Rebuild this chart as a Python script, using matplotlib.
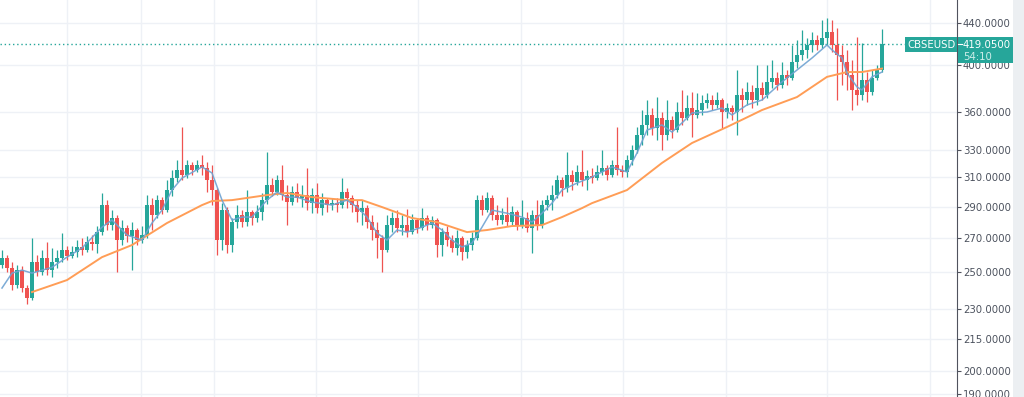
import matplotlib
matplotlib.use('Agg')
import matplotlib.pyplot as plt
import matplotlib.patches as mpatches
from matplotlib.lines import Line2D
from matplotlib.ticker import NullLocator, NullFormatter
from matplotlib.transforms import IdentityTransform
import numpy as np

symbol = 'CBSEUSD'
countdown = '54:10'

# candles, oldest first
opens = [254.2,
         258.3, 252.4, 242.9, 251.3, 241.3, 235.9, 256.0, 250.2, 258.3,
         251.3, 256.0, 258.3, 263.0, 259.4, 261.8, 264.8, 263.0, 267.8, 266.6,
         273.9, 291.2, 278.3, 282.8, 269.0, 276.4, 271.5, 275.2, 269.0, 272.1,
         291.2, 284.7, 294.5, 287.9, 301.3, 309.6, 315.3, 311.7, 318.9, 315.3,
         318.9, 316.7, 308.2, 301.3, 269.0, 287.9, 266.0, 280.2, 284.7, 280.2,
         286.6, 282.8, 286.6, 294.5, 304.7, 299.9, 308.2, 297.9, 293.2, 299.9,
         295.9, 297.9, 292.5, 297.9, 289.2, 294.5, 291.2, 292.5, 291.2, 299.9,
         295.9, 291.2, 286.6, 289.2, 280.2, 275.2, 270.2, 263.0, 278.3, 282.8,
         276.4, 278.3, 273.9, 281.5, 276.4, 282.8, 278.3, 281.5, 266.0, 273.9,
         269.0, 264.2, 270.2, 261.8, 266.0, 270.2, 294.5, 287.9, 295.9, 284.7,
         281.5, 284.7, 280.2, 286.6, 278.3, 282.8, 276.4, 284.7, 278.3, 291.2,
         294.5, 297.9, 308.2, 302.7, 311.7, 306.8, 313.9, 308.2, 311.0, 309.6,
         313.9, 316.7, 311.7, 318.9, 315.3, 313.9, 322.5, 329.9, 341.3, 349.2,
         357.2, 346.8, 354.7, 341.3, 353.1, 345.2, 359.6, 354.7, 362.8, 357.2,
         361.2, 367.0, 369.5, 365.4, 369.5, 359.6, 362.8, 359.6, 373.7, 369.5,
         376.3, 369.5, 379.7, 373.7, 384.5, 388.5, 382.3, 391.1, 388.5, 402.8,
         409.2, 413.9, 418.6, 423.4, 418.6, 425.3, 431.1, 418.6, 409.2, 402.8,
         391.1, 378.0, 373.7, 386.7, 376.3, 388.5, 395.5]

highs = [263.0, 260.0, 256.0, 254.2, 253.6, 242.9, 270.2, 260.0, 263.0, 267.8,
         264.2, 263.0, 273.3, 265.4, 265.4, 269.0, 270.2, 271.5, 272.1, 277.7,
         299.3, 294.5, 287.9, 284.7, 281.5, 278.3, 280.2, 276.4, 277.7, 297.9,
         295.9, 297.9, 296.5, 308.2, 315.3, 322.5, 347.6, 322.5, 321.1, 322.5,
         326.2, 321.1, 318.9, 303.0, 292.5, 290.0, 282.8, 291.2, 287.9, 301.3,
         287.9, 291.2, 299.3, 328.4, 309.6, 311.7, 318.9, 304.7, 304.0, 306.1,
         304.7, 316.7, 302.7, 306.1, 299.3, 296.0, 295.9, 295.9, 309.6, 302.7,
         297.9, 294.5, 294.5, 291.2, 284.7, 280.2, 272.1, 284.7, 286.6, 287.9,
         284.7, 288.6, 285.3, 282.8, 289.2, 284.7, 284.0, 282.8, 276.4, 277.7,
         272.1, 275.2, 271.5, 269.0, 273.9, 297.9, 297.9, 299.9, 297.9, 291.2,
         289.2, 296.5, 290.5, 287.9, 294.5, 286.6, 287.9, 294.5, 294.5, 297.9,
         304.7, 311.7, 310.3, 328.4, 315.3, 318.9, 329.9, 315.3, 316.7, 318.9,
         329.9, 318.9, 322.5, 347.6, 318.9, 326.2, 333.7, 347.6, 361.2, 369.5,
         362.8, 372.0, 359.6, 369.5, 356.0, 367.8, 378.0, 373.7, 376.3, 375.4,
         373.7, 375.4, 373.7, 376.3, 371.2, 367.0, 365.4, 395.5, 379.7, 384.5,
         382.3, 400.0, 384.5, 400.0, 404.6, 393.7, 402.8, 395.5, 418.6, 423.4,
         433.1, 425.3, 431.1, 428.2, 443.0, 445.0, 443.0, 435.1, 418.6, 413.9,
         404.6, 426.3, 420.5, 393.7, 395.5, 400.0, 434.1]

lows = [252.4, 250.2, 240.2, 241.3, 239.1, 232.6, 234.8, 247.9, 248.5, 248.5,
        247.4, 252.4, 256.0, 257.1, 258.3, 258.8, 260.0, 261.8, 263.0, 261.2,
        272.1, 275.2, 275.2, 250.2, 266.0, 267.8, 251.3, 266.0, 267.2, 270.2,
        275.2, 282.8, 285.3, 286.6, 297.2, 306.8, 308.2, 309.6, 311.7, 313.9,
        311.7, 299.9, 291.2, 260.0, 263.0, 261.2, 261.8, 276.4, 277.0, 277.7,
        278.3, 280.2, 281.5, 292.0, 297.2, 297.9, 294.5, 278.3, 291.2, 293.2,
        289.9, 287.9, 286.0, 286.0, 284.7, 286.6, 287.9, 286.6, 289.0, 289.2,
        286.6, 280.2, 278.3, 276.4, 269.0, 258.3, 250.2, 261.8, 273.9, 273.9,
        272.1, 270.8, 272.7, 273.3, 275.2, 275.2, 276.4, 258.8, 259.4, 265.4,
        261.8, 260.0, 257.1, 258.3, 263.0, 269.0, 284.7, 286.6, 281.5, 278.3,
        279.0, 277.7, 278.3, 275.2, 276.4, 273.9, 261.2, 275.2, 276.4, 287.9,
        287.9, 295.9, 297.2, 299.9, 301.3, 304.7, 304.0, 301.3, 306.1, 308.2,
        311.7, 308.2, 310.3, 311.7, 310.3, 310.3, 318.9, 327.7, 333.7, 341.3,
        341.3, 337.5, 329.9, 337.5, 339.0, 343.6, 349.2, 353.1, 339.8, 354.7,
        357.2, 362.8, 361.2, 362.8, 346.8, 354.7, 353.1, 341.3, 359.6, 365.4,
        362.8, 365.4, 369.5, 371.2, 379.7, 378.0, 379.7, 382.3, 386.7, 397.3,
        404.6, 406.4, 412.0, 413.9, 415.8, 418.6, 412.0, 369.5, 382.3, 378.0,
        361.2, 365.4, 369.5, 367.8, 374.0, 386.7, 393.7]

closes = [258.3, 252.4, 242.9, 251.3, 241.3, 235.9, 256.0, 250.2, 258.3, 251.3,
          256.0, 258.3, 263.0, 259.4, 261.8, 264.8, 263.0, 267.8, 266.6, 273.9,
          291.2, 278.3, 282.8, 269.0, 276.4, 271.5, 275.2, 269.0, 272.1, 291.2,
          284.7, 294.5, 287.9, 301.3, 309.6, 315.3, 311.7, 318.9, 315.3, 318.9,
          316.7, 308.2, 301.3, 269.0, 287.9, 266.0, 280.2, 284.7, 280.2, 286.6,
          282.8, 286.6, 294.5, 304.7, 299.9, 308.2, 297.9, 293.2, 299.9, 295.9,
          297.9, 292.5, 297.9, 289.2, 294.5, 291.2, 292.5, 291.2, 299.9, 295.9,
          291.2, 286.6, 289.2, 280.2, 275.2, 270.2, 263.0, 278.3, 282.8, 276.4,
          278.3, 273.9, 281.5, 276.4, 282.8, 278.3, 281.5, 266.0, 273.9, 269.0,
          264.2, 270.2, 261.8, 266.0, 270.2, 294.5, 287.9, 295.9, 284.7, 281.5,
          284.7, 280.2, 286.6, 278.3, 282.8, 276.4, 284.7, 278.3, 291.2, 294.5,
          297.9, 308.2, 302.7, 311.7, 306.8, 313.9, 308.2, 311.0, 309.6, 313.9,
          316.7, 311.7, 318.9, 315.3, 313.9, 322.5, 329.9, 341.3, 349.2, 357.2,
          346.8, 354.7, 341.3, 353.1, 345.2, 359.6, 354.7, 362.8, 357.2, 361.2,
          367.0, 369.5, 365.4, 369.5, 359.6, 362.8, 359.6, 373.7, 369.5, 376.3,
          369.5, 379.7, 373.7, 384.5, 388.5, 382.3, 391.1, 388.5, 402.8, 409.2,
          413.9, 418.6, 423.4, 418.6, 425.3, 431.1, 418.6, 409.2, 402.8, 391.1,
          378.0, 373.7, 386.7, 376.3, 388.5, 395.5, 419.05]

# fast moving average (blue), sampled at candle numbers
fast_ma_idx = [0, 2, 4, 6, 10, 13, 16, 20, 22, 25, 28, 30, 32, 34, 36, 40, 42, 44, 46, 48,
               50, 53, 55, 57, 59, 62, 66, 69, 71, 73, 75, 77, 79, 81, 84, 86, 88, 90, 92, 94,
               96, 98, 101, 104, 106, 108, 110, 112, 115, 118, 122, 125, 127, 129, 132, 134,
               136, 138, 141, 144, 146, 149, 152, 156, 159, 162, 165, 166, 168, 169, 171,
               172, 174, 176]
fast_ma = [241.3, 249.6, 251.3, 249.6, 252.9, 258.8, 264.2, 277.0, 281.5, 272.1,
           269.0, 279.6, 287.9, 301.3, 309.6, 317.5, 313.2, 294.5, 281.5, 283.4,
           283.4, 294.5, 299.9, 296.5, 296.5, 293.2, 291.2, 294.5, 289.9, 283.4,
           273.3, 269.0, 275.2, 273.9, 277.0, 279.6, 275.2, 269.0, 264.8, 267.2,
           277.0, 287.9, 285.9, 283.4, 280.2, 285.9, 292.5, 301.3, 306.1, 310.3,
           317.5, 313.9, 327.7, 345.2, 349.2, 343.6, 350.8, 358.8, 359.6, 362.8,
           357.2, 365.4, 369.5, 385.0, 395.5, 406.4, 418.6, 413.9, 406.4, 392.8,
           380.6, 378.0, 389.4, 393.7]

# slow moving average (orange)
slow_ma_idx = [6, 13, 20, 26, 33, 40, 42, 46, 53, 57, 62, 69, 72, 76, 82, 87, 93, 97,
               102, 108, 112, 116, 118, 125, 132, 138, 145, 150, 152, 159, 165, 169, 172, 176]
slow_ma = [239.1, 245.7, 258.8, 266.0, 279.6, 291.2, 293.9, 294.5, 297.9, 299.3,
           296.5, 294.5, 294.5, 289.9, 282.8, 280.2, 273.9, 275.2, 277.7, 278.3,
           283.4, 289.2, 292.5, 301.3, 320.4, 335.2, 347.6, 357.2, 361.2, 372.0,
           389.4, 393.7, 393.7, 396.8]

price_ticks = [190, 200, 215, 230, 250, 270, 290, 310, 330, 360, 400, 440]

UP = '#26a69a'
DOWN = '#ef5350'
GRID = '#eef1f6'
AXIS = '#50535e'

fig = plt.figure(figsize=(10.24, 3.97), dpi=100)
ax = fig.add_axes([0, 0, 957 / 1024, 1])
ax.set_yscale('log')
ax.set_ylim(188.5, 463.5)
ax.set_xlim(-0.4, 191)

o = np.array(opens)
c = np.array(closes)
h = np.array(highs)
l = np.array(lows)
x = np.arange(len(c))
col = np.where(c >= o, UP, DOWN)

# grid
for gx in [13.0, 27.8, 42.4, 62.8, 83.2, 103.8, 124.2, 144.8, 165.0, 185.6]:
    ax.axvline(gx, color=GRID, lw=1, zorder=0)
for p in price_ticks:
    ax.axhline(p, color=GRID, lw=1, zorder=0)

# candles
ax.vlines(x, l, h, colors=col, linewidth=0.9, zorder=3)
ax.bar(x, np.abs(c - o), bottom=np.minimum(o, c), width=0.7, color=col,
       linewidth=0, zorder=3)

ax.plot(slow_ma_idx, slow_ma, color='#ff9d56', lw=1.4, zorder=4)
ax.plot(fast_ma_idx, fast_ma, color='#6fa3d2', lw=1.1, zorder=4, alpha=0.9)

# last price line
ax.axhline(closes[-1], xmin=0, xmax=905 / 957, color=UP, lw=1,
           ls=(0, (1, 2)), zorder=2)

# axes styling
for s in ['top', 'left', 'bottom']:
    ax.spines[s].set_visible(False)
ax.spines['right'].set_color(AXIS)
ax.spines['right'].set_linewidth(0.8)
ax.yaxis.tick_right()
ax.yaxis.set_minor_locator(NullLocator())
ax.yaxis.set_minor_formatter(NullFormatter())
ax.set_yticks(price_ticks)
ax.set_yticklabels(['{:.4f}'.format(p) for p in price_ticks])
ax.tick_params(axis='y', length=2.9, width=0.8, color=AXIS, labelsize=7.3,
               labelcolor='#4c525e', pad=1.4)
ax.set_xticks([])

# price labels on the axis
py = ax.transData.transform((0, closes[-1]))[1]
ident = IdentityTransform()
fig.add_artist(mpatches.Rectangle((905, py - 8), 52, 15, transform=ident,
                                  facecolor=UP, edgecolor='none', zorder=5))
fig.text(931, py - 0.5, symbol, transform=ident, ha='center', va='center',
         color='white', fontsize=7.3, zorder=6)
fig.add_artist(mpatches.Rectangle((958, py - 19), 55, 26, transform=ident,
                                  facecolor=UP, edgecolor='none', zorder=5))
fig.add_artist(Line2D([958, 962], [py, py], transform=ident, color='white',
                      lw=0.8, zorder=6))
fig.text(963, py - 0.5, '{:.4f}'.format(closes[-1]), transform=ident, ha='left',
         va='center', color='white', fontsize=7.3, zorder=6)
fig.text(963, py - 12.5, countdown, transform=ident, ha='left', va='center',
         color='#cdeee9', fontsize=7.3, zorder=6)

# scrollbar strip on the far right
fig.add_artist(mpatches.Rectangle((1013, 0), 11, 397, transform=ident,
                                  facecolor='#eceff2', edgecolor='none', zorder=1))

fig.savefig('out.png', dpi=100)
